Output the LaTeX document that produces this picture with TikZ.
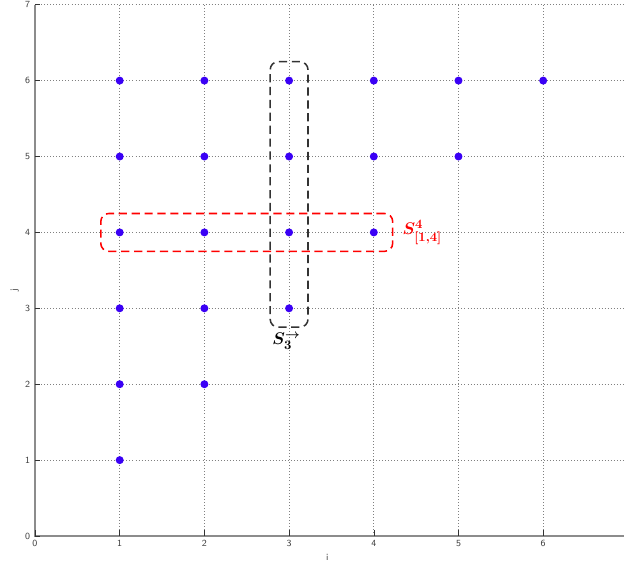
\documentclass[tikz,border=0pt]{standalone}
\usepackage{amsmath,amssymb}
\usepackage{xcolor}
\usepackage{tikz}
\usetikzlibrary{positioning, fit}

\definecolor{ptblue}{HTML}{3A00F5}
\definecolor{axisgray}{HTML}{8C8C8C}

\begin{document}
\begin{tikzpicture}[
    x=2.541cm, y=2.277cm,
    axis/.style={draw=axisgray, line width=1.8pt},
    gridline/.style={draw=gray, dotted, line width=0.6pt},
    tick/.style={draw=black!80, line width=0.5pt},
    ticklabel/.style={font=\sffamily\fontsize{8}{9}\selectfont, text=black!75, inner sep=1pt},
    pt/.style={circle, fill=ptblue, inner sep=0pt, minimum size=0.24cm},
    setbox/.style={draw, line width=1.3pt, rounded corners=0.24cm, inner sep=0.44cm,
        dash pattern=on 7pt off 4pt},
    setlabel/.style={font=\fontsize{15}{18}\selectfont}
]
    \clip (-0.413,-0.448) rectangle (6.954,7.062);

    % Grid
    \foreach \k in {1,...,6} {
        \draw[gridline] (\k,0) -- (\k,7);
    }
    \foreach \k in {1,...,7} {
        \draw[gridline] (0,\k) -- (7,\k);
    }

    % Axes
    \draw[axis] (0,7) -- (0,0) -- (7,0);
    \foreach \k in {0,...,6} {
        \draw[tick] (\k,0) -- (\k,0.08);
        \node[ticklabel, below] at (\k,-0.04) {\k};
    }
    \foreach \k in {0,...,7} {
        \draw[tick] (0,\k) -- (0.06,\k);
        \node[ticklabel, left] at (-0.04,\k) {\k};
    }
    \node[ticklabel] (xlab) at (3.45,-0.28) {i};
    \node[ticklabel, rotate=90] (ylab) at (-0.24,3.24) {j};

    % Points
    \node[pt] (p11) at (1,1) {};
    \node[pt] (p12) at (1,2) {};
    \node[pt] (p22) at (2,2) {};
    \node[pt] (p13) at (1,3) {};
    \node[pt] (p23) at (2,3) {};
    \node[pt] (p33) at (3,3) {};
    \node[pt] (p14) at (1,4) {};
    \node[pt] (p24) at (2,4) {};
    \node[pt] (p34) at (3,4) {};
    \node[pt] (p44) at (4,4) {};
    \node[pt] (p15) at (1,5) {};
    \node[pt] (p25) at (2,5) {};
    \node[pt] (p35) at (3,5) {};
    \node[pt] (p45) at (4,5) {};
    \node[pt] (p55) at (5,5) {};
    \node[pt] (p16) at (1,6) {};
    \node[pt] (p26) at (2,6) {};
    \node[pt] (p36) at (3,6) {};
    \node[pt] (p46) at (4,6) {};
    \node[pt] (p56) at (5,6) {};
    \node[pt] (p66) at (6,6) {};

    % Sets
    \node[setbox, draw=black!80, fit=(p33)(p36)] (colbox) {};
    \node[setbox, draw=red, fit=(p14)(p44)] (rowbox) {};

    \node[setlabel, below=0.02cm of colbox, xshift=-0.08cm] (collab) {$\boldsymbol{S_3^{\rightarrow}}$};
    \node[setlabel, text=red, right=0.15cm of rowbox] (rowlab) {$\boldsymbol{S^4_{[1,4]}}$};

\end{tikzpicture}
\end{document}
